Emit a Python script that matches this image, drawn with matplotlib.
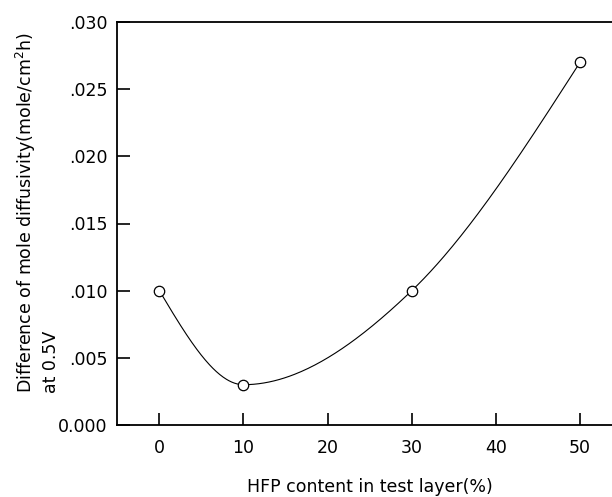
import numpy as np
import matplotlib
matplotlib.use("Agg")
import matplotlib.pyplot as plt
import matplotlib.transforms as mtransforms

# Data
hfp = [0, 10, 30, 50]
diff = [0.010, 0.003, 0.010, 0.027]
xticks = [0, 10, 20, 30, 40, 50]
yticks = [0.000, 0.005, 0.010, 0.015, 0.020, 0.025, 0.030]
ytick_labels = ["0.000", ".005", ".010", ".015", ".020", ".025", ".030"]


def smooth_curve(x, y, n=100):
    """Piecewise cubic Hermite curve (Catmull-Rom tangents, natural ends)."""
    x = np.asarray(x, float); y = np.asarray(y, float)
    k = len(x)
    delta = np.diff(y) / np.diff(x)
    m = np.zeros(k)
    for i in range(1, k - 1):
        m[i] = (y[i + 1] - y[i - 1]) / (x[i + 1] - x[i - 1])
    m[0] = (3 * delta[0] - m[1]) / 2
    m[-1] = (3 * delta[-1] - m[-2]) / 2
    xs_all, ys_all = [], []
    for i in range(k - 1):
        h = x[i + 1] - x[i]
        t = np.linspace(0, 1, n)
        h00 = 2 * t**3 - 3 * t**2 + 1
        h10 = t**3 - 2 * t**2 + t
        h01 = -2 * t**3 + 3 * t**2
        h11 = t**3 - t**2
        xs_all.append(x[i] + t * h)
        ys_all.append(h00 * y[i] + h10 * h * m[i] + h01 * y[i + 1] + h11 * h * m[i + 1])
    return np.concatenate(xs_all), np.concatenate(ys_all)


plt.rcParams['font.family'] = ['DejaVu Sans']
fig = plt.figure(figsize=(6.12, 4.97), dpi=100)
ax = fig.add_axes([117.3 / 612, 72 / 497, 1 - 117.3 / 612, (425 - 22) / 497])

cx, cy = smooth_curve(hfp, diff)
ax.plot(cx, cy, color='black', lw=0.8)
ax.plot(hfp, diff, linestyle='none', marker='o', markersize=7.5,
        markerfacecolor='white', markeredgecolor='black', markeredgewidth=0.9)

ax.set_xlim(-5, 53.8)
ax.set_ylim(0, 0.030)
ax.set_xticks(xticks)
ax.set_xticklabels([str(t) for t in xticks])
ax.set_yticks(yticks)
ax.set_yticklabels(ytick_labels)
ax.spines['right'].set_visible(False)
for s in ['left', 'bottom', 'top']:
    ax.spines[s].set_linewidth(1.3)
ax.tick_params(direction='in', length=9, width=1.2, labelsize=12.5, colors='black')
ax.tick_params(axis='x', pad=10)
ax.tick_params(axis='y', pad=7)
ax.tick_params(axis='y', which='both', right=False)
ax.tick_params(axis='x', top=False)

trans = mtransforms.blended_transform_factory(ax.transData, fig.transFigure)
ax.text(25, 10 / 497, "HFP content in test layer(%)", transform=trans,
        ha='center', va='center', fontsize=12.5)

fig.text(37 / 612, 1 - 213 / 497,
         "Difference of mole diffusivity(mole/cm$^2$h)\nat 0.5V",
         rotation=90, ha='center', va='center', multialignment='left',
         fontsize=12.5, linespacing=1.25)

fig.savefig("out.png", dpi=100)
